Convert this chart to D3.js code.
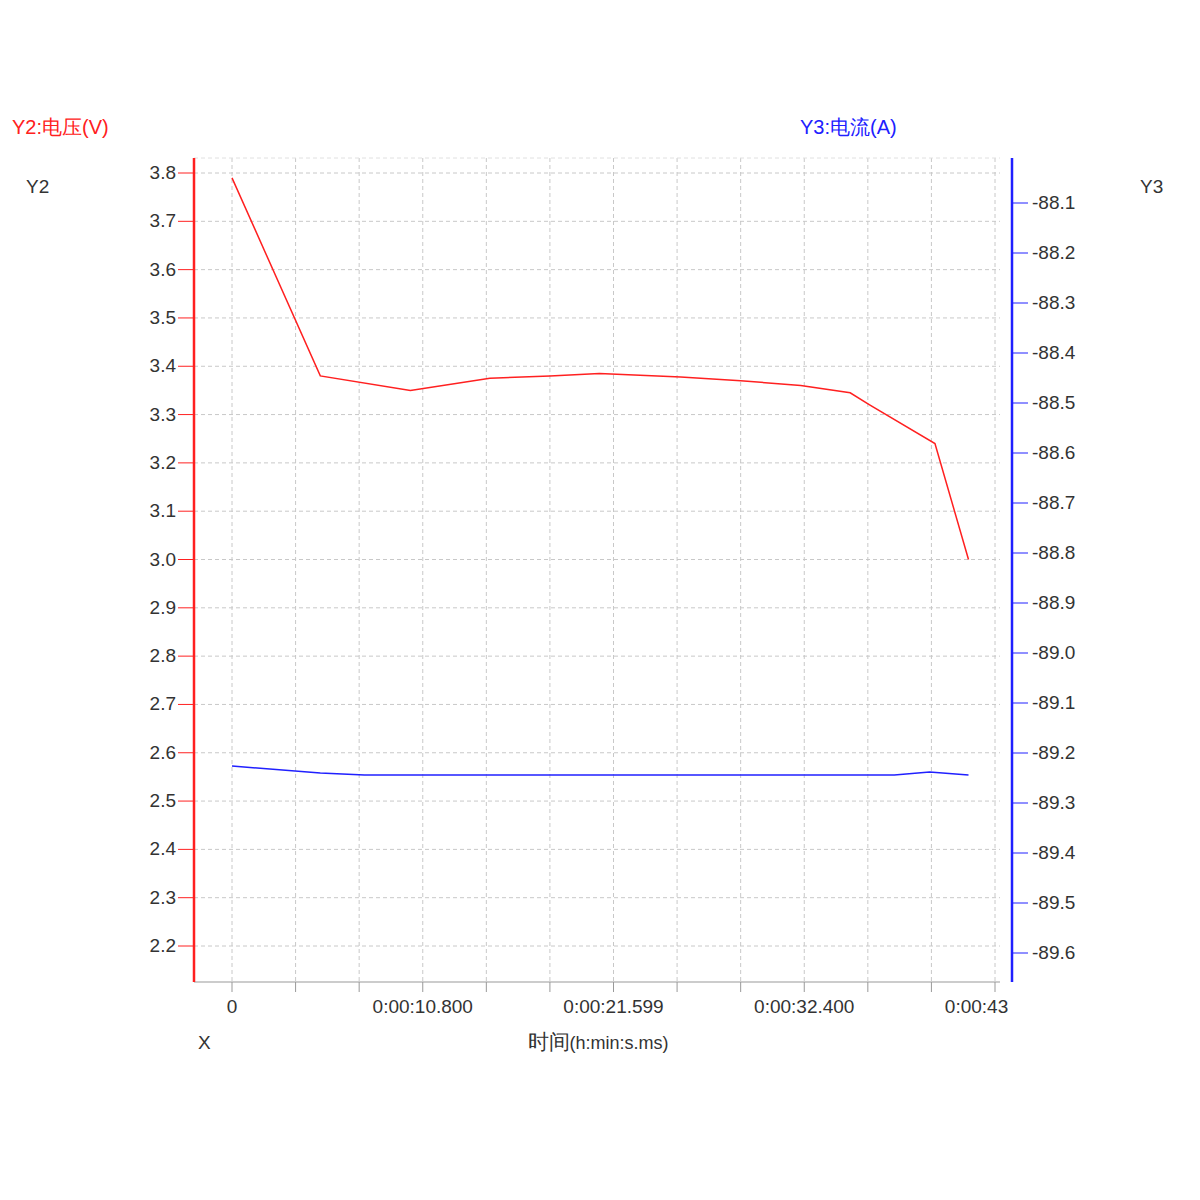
<!DOCTYPE html>
<html lang="zh">
<head>
<meta charset="UTF-8">
<title>电压电流曲线</title>
<script src="https://d3js.org/d3.v7.min.js"></script>
<style>
  body { margin: 0; background: #fff; }
  text { font-family: "Liberation Sans", Arial, sans-serif; }
</style>
</head>
<body>
<svg id="chart" width="1200" height="1200"></svg>
<script>
// time in seconds
const voltTime = [0, 5.0, 10.1, 14.6, 18.0, 20.8, 25.4, 28.8, 32.2, 35.0, 36.1, 39.8, 41.7];
const voltValues = [3.79, 3.38, 3.35, 3.375, 3.38, 3.385, 3.378, 3.37, 3.36, 3.345, 3.32, 3.24, 3.0];
const currTime = [0, 5.0, 7.5, 20, 30, 37.5, 39.5, 41.7];
const currValues = [-89.226, -89.24, -89.244, -89.244, -89.244, -89.244, -89.238, -89.244];
const xTickValues = [0, 10.8, 21.6, 32.4, 43.2];
const xTickLabels = ["0", "0:00:10.800", "0:00:21.599", "0:00:32.400", "0:00:43.200"];
const y2Ticks = [2.2, 2.3, 2.4, 2.5, 2.6, 2.7, 2.8, 2.9, 3.0, 3.1, 3.2, 3.3, 3.4, 3.5, 3.6, 3.7, 3.8];
const y3Ticks = [-88.1, -88.2, -88.3, -88.4, -88.5, -88.6, -88.7, -88.8, -88.9, -89.0, -89.1, -89.2, -89.3, -89.4, -89.5, -89.6];

const svg = d3.select("#chart");
const pLeft = 194, pRight = 1012, pTop = 158, pBottom = 982;

const x = d3.scaleLinear().domain([0, 43.2]).range([232, 995]);
const y2 = d3.scaleLinear().domain([2.2, 3.8]).range([946, 173]);
const y3 = d3.scaleLinear().domain([-89.6, -88.1]).range([953, 203]);

// grid
const gridX = d3.range(0, 43.3, 3.6);
svg.append("g").selectAll("line").data(gridX).join("line")
  .attr("x1", d => x(d)).attr("x2", d => x(d))
  .attr("y1", pTop).attr("y2", pBottom)
  .attr("stroke", "#c8c8c8").attr("stroke-dasharray", "4,3");
svg.append("g").selectAll("line").data(y2Ticks).join("line")
  .attr("x1", pLeft).attr("x2", 1000)
  .attr("y1", d => y2(d)).attr("y2", d => y2(d))
  .attr("stroke", "#c8c8c8").attr("stroke-dasharray", "4,3");
svg.append("line").attr("x1", pLeft).attr("x2", 1000).attr("y1", pTop).attr("y2", pTop)
  .attr("stroke", "#e0e0e0").attr("stroke-dasharray", "4,3");

// bottom axis
svg.append("line").attr("x1", pLeft).attr("x2", 1000).attr("y1", pBottom).attr("y2", pBottom)
  .attr("stroke", "#999");
svg.append("g").selectAll("line").data(gridX).join("line")
  .attr("x1", d => x(d)).attr("x2", d => x(d))
  .attr("y1", pBottom).attr("y2", pBottom + 10).attr("stroke", "#999");
svg.append("clipPath").attr("id", "xclip").append("rect")
  .attr("x", 180).attr("y", 990).attr("width", 828).attr("height", 40);
svg.append("g").attr("clip-path", "url(#xclip)")
  .selectAll("text").data(xTickValues).join("text")
  .attr("x", d => x(d)).attr("y", 1013)
  .attr("text-anchor", "middle").attr("font-size", 19).attr("fill", "#333")
  .text((d, i) => xTickLabels[i]);

// left axis
svg.append("line").attr("x1", pLeft).attr("x2", pLeft).attr("y1", pTop).attr("y2", pBottom)
  .attr("stroke", "#ff2020").attr("stroke-width", 2.5);
const g2 = svg.append("g").selectAll("g").data(y2Ticks).join("g");
g2.append("line").attr("x1", pLeft - 16).attr("x2", pLeft)
  .attr("y1", d => y2(d)).attr("y2", d => y2(d)).attr("stroke", "#ff2020");
g2.append("text").attr("x", pLeft - 18).attr("y", d => y2(d) + 6)
  .attr("text-anchor", "end").attr("font-size", 19).attr("fill", "#333")
  .text(d => d.toFixed(1));

// right axis
svg.append("line").attr("x1", pRight).attr("x2", pRight).attr("y1", pTop).attr("y2", pBottom)
  .attr("stroke", "#2020ff").attr("stroke-width", 2.5);
const g3 = svg.append("g").selectAll("g").data(y3Ticks).join("g");
g3.append("line").attr("x1", pRight).attr("x2", pRight + 16)
  .attr("y1", d => y3(d)).attr("y2", d => y3(d)).attr("stroke", "#2020ff");
g3.append("text").attr("x", pRight + 20).attr("y", d => y3(d) + 6)
  .attr("font-size", 19).attr("fill", "#333")
  .text(d => "-" + Math.abs(d).toFixed(1));

// lines
svg.append("path").datum(voltTime.map((t, i) => [t, voltValues[i]]))
  .attr("fill", "none").attr("stroke", "#ff2020").attr("stroke-width", 1.5)
  .attr("d", d3.line().x(d => x(d[0])).y(d => y2(d[1])));
svg.append("path").datum(currTime.map((t, i) => [t, currValues[i]]))
  .attr("fill", "none").attr("stroke", "#2020ff").attr("stroke-width", 1.5)
  .attr("d", d3.line().x(d => x(d[0])).y(d => y3(d[1])));

// labels
svg.append("text").attr("x", 12).attr("y", 134).attr("font-size", 20).attr("fill", "#ff2020")
  .text("Y2:电压(V)");
svg.append("text").attr("x", 800).attr("y", 134).attr("font-size", 20).attr("fill", "#2020ff")
  .text("Y3:电流(A)");
svg.append("text").attr("x", 26).attr("y", 193).attr("font-size", 19).attr("fill", "#333").text("Y2");
svg.append("text").attr("x", 1140).attr("y", 193).attr("font-size", 19).attr("fill", "#333").text("Y3");
svg.append("text").attr("x", 198).attr("y", 1049).attr("font-size", 19).attr("fill", "#333").text("X");
const xt = svg.append("text").attr("x", 598).attr("y", 1049).attr("text-anchor", "middle").attr("fill", "#333");
xt.append("tspan").attr("font-size", 21).text("时间");
xt.append("tspan").attr("font-size", 18).text("(h:min:s.ms)");
</script>
</body>
</html>
